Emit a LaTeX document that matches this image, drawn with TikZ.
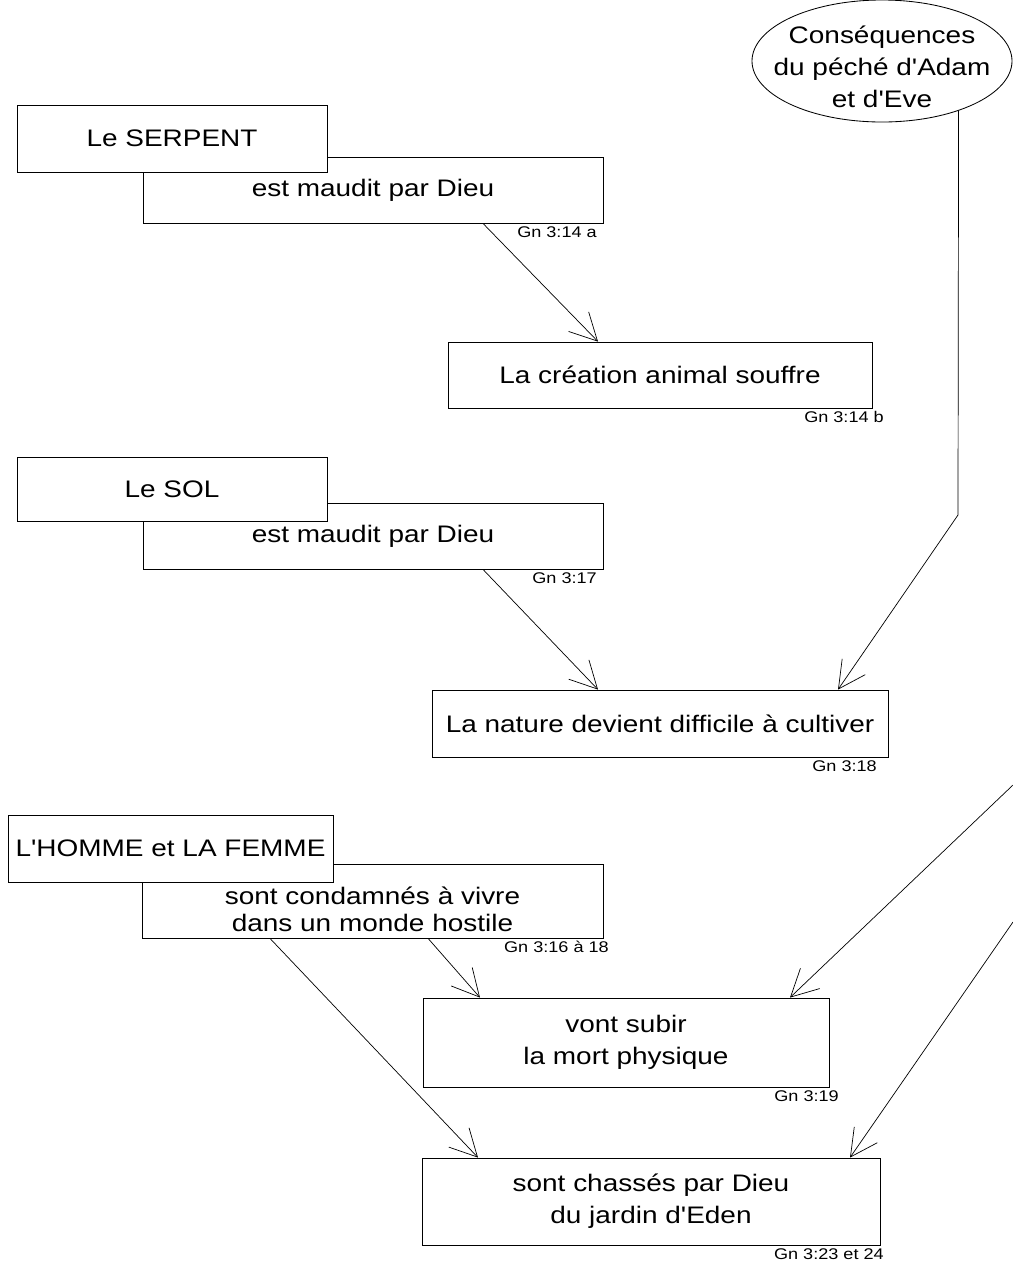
\documentclass[tikz,border=0pt]{standalone}
\usepackage{fontspec}
\newfontfamily\boxfont{Liberation Sans}[FakeStretch=1.17]
\usetikzlibrary{shapes.geometric,arrows.meta,positioning}

\begin{document}
\begin{tikzpicture}[
    box/.style={shape=rectangle,draw=black,fill=white,line width=0.6pt,inner sep=0pt,align=center,font=\boxfont\fontsize{17}{22.8}\selectfont},
    oval/.style={shape=ellipse,draw=black,line width=0.6pt,minimum width=6.5cm,minimum height=3.05cm,inner sep=0pt},
    gn/.style={inner sep=1pt,font=\boxfont\fontsize{11}{13}\selectfont},
    arr/.style={line width=0.5pt,-{Straight Barb[length=0.675cm,width=0.7cm]}}
  ]
  \useasboundingbox (0,0) rectangle (25.325,-31.625);

  \node[oval,label={[align=center,font=\boxfont\fontsize{17}{22.8}\selectfont,yshift=-0.15cm]center:{Conséquences\\du péché d'Adam\\et d'Eve}}](conseq) at (22.05,-1.525) {};

  % le serpent
  \node[box,minimum width=11.5cm,minimum height=1.65cm](maudit1) at (9.325,-4.75) {est maudit par Dieu};
  \node[box,minimum width=7.75cm,minimum height=1.675cm](serpent) at (4.3,-3.4625) {Le SERPENT};
  \node[box,minimum width=10.6cm,minimum height=1.65cm](animal) at (16.5,-9.375) {La création animal souffre};
  \node[gn,below left=1pt and 0.125cm of maudit1.south east](gn1) {Gn 3:14 a};
  \node[gn,below left=1pt and -0.325cm of animal.south east](gn2) {Gn 3:14 b};

  % le sol
  \node[box,minimum width=11.5cm,minimum height=1.65cm](maudit2) at (9.325,-13.4) {est maudit par Dieu};
  \node[box,minimum width=7.75cm,minimum height=1.6cm](sol) at (4.3,-12.225) {Le SOL};
  \node[box,minimum width=11.4cm,minimum height=1.675cm](nature) at (16.5,-18.0875) {La nature devient difficile à cultiver};
  \node[gn,below left=1pt and 0.125cm of maudit2.south east](gn3) {Gn 3:17};
  \node[gn,below left=1pt and 0.25cm of nature.south east](gn4) {Gn 3:18};

  % l'homme et la femme
  \node[box,minimum width=11.525cm,minimum height=1.85cm](hostile) at (9.3125,-22.525) {\rule{0pt}{0.85cm}sont condamnés à vivre\\[-3.6pt]dans un monde hostile};
  \node[box,minimum width=8.125cm,minimum height=1.675cm](homme) at (4.2625,-21.2125) {L'HOMME et LA FEMME};
  \node[box,minimum width=10.15cm,minimum height=2.225cm](mort) at (15.65,-26.0625) {vont subir\\la mort physique};
  \node[box,minimum width=11.45cm,minimum height=2.175cm](chasses) at (16.275,-30.0375) {sont chassés par Dieu\\du jardin d'Eden};
  \node[gn,below left=1pt and -0.175cm of hostile.south east](gn5) {Gn 3:16 à 18};
  \node[gn,below left=1pt and -0.275cm of mort.south east](gn6) {Gn 3:19};
  \node[gn,below left=1pt and -0.125cm of chasses.south east](gn7) {Gn 3:23 et 24};

  \coordinate (bend) at (23.95,-12.875);
  \coordinate (edgeA) at (25.325,-19.625);
  \coordinate (edgeB) at (25.325,-23.05);

  \path [arr] ([xshift=2.75cm]maudit1.south) edge ([xshift=-1.55cm]animal.north);
  \path [arr] ([xshift=2.75cm]maudit2.south) edge ([xshift=-1.55cm]nature.north);
  \draw [arr] (conseq.-33) -- (bend) -- ([xshift=4.45cm]nature.north);
  \path [arr] ([xshift=1.39cm]hostile.south) edge ([xshift=-3.65cm]mort.north);
  \path [arr] ([xshift=-2.5625cm]hostile.south) edge ([xshift=-4.325cm]chasses.north);
  \path [arr] (edgeA) edge ([xshift=4.1cm]mort.north);
  \path [arr] (edgeB) edge ([xshift=4.975cm]chasses.north);
\end{tikzpicture}
\end{document}
